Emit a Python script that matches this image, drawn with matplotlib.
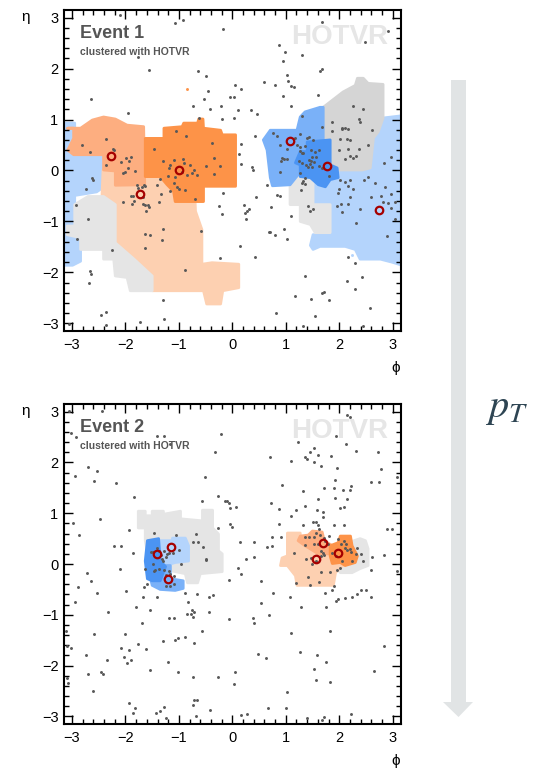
import numpy as np
import matplotlib
matplotlib.use('Agg')
import matplotlib.pyplot as plt
from matplotlib.ticker import MultipleLocator
from matplotlib.patches import Polygon

plt.rcParams['font.family'] = ['Liberation Sans', 'DejaVu Sans']
plt.rcParams['mathtext.fontset'] = 'stix'

# colours of the jet areas
c_ltorange = '#fdd0b1'
c_mdorange = '#fdae80'
c_orange = '#fd9348'
c_ltgray = '#e5e5e5'
c_gray = '#d5d5d5'
c_ltblue = '#b4d4fc'
c_mdblue = '#7ab1f8'
c_blue = '#4b94f3'

####################################################################
## Event 1 : jet areas (phi, eta polygons)
####################################################################
ev1_ltblue_left = [(-3.3, 0.93), (-2.95, 0.93), (-2.95, 0.35), (-2.43, 0.35), (-2.43, -0.34),
                   (-2.54, -0.42), (-2.95, -0.49), (-2.95, -1.35), (-2.84, -1.35), (-2.84, -1.78),
                   (-2.99, -1.86), (-3.3, -1.86)]
ev1_ltorange = [(-2.42, 0.01), (-0.72, 0.01), (-0.69, -0.80), (-0.57, -1.16), (-0.57, -1.84),
                (-0.38, -1.81), (0.12, -1.84), (0.12, -2.30), (-0.18, -2.36), (-0.22, -2.62),
                (-0.48, -2.62), (-0.54, -2.36), (-1.50, -2.36), (-1.50, -2.07), (-1.84, -1.74),
                (-2.19, -1.42), (-2.19, -0.67), (-2.44, -0.51)]
ev1_ltgray = [(-2.95, -0.67), (-2.70, -0.51), (-2.41, -0.51), (-2.19, -0.67), (-2.19, -1.42),
              (-1.84, -1.74), (-1.50, -2.07), (-1.50, -2.36), (-1.91, -2.36), (-1.97, -2.10),
              (-2.19, -2.07), (-2.22, -1.74), (-2.41, -1.74), (-2.41, -1.55), (-2.84, -1.55),
              (-2.84, -1.32), (-3.09, -1.26), (-3.09, -1.09), (-2.95, -1.09)]
ev1_mdorange = [(-3.08, 0.83), (-2.84, 0.83), (-2.62, 0.99), (-2.41, 1.05), (-2.19, 1.01),
                (-1.97, 0.89), (-1.66, 0.86), (-1.64, -0.28), (-2.19, -0.29), (-2.19, -0.01),
                (-2.41, 0.01), (-2.41, 0.31), (-2.97, 0.31), (-3.08, 0.40), (-2.97, 0.63),
                (-2.97, 0.83)]
ev1_orange = [(-1.63, 0.63), (-1.28, 0.63), (-1.28, 0.83), (-0.94, 0.86), (-0.91, 0.93),
              (-0.65, 0.93), (-0.63, 1.01), (-0.55, 1.01), (-0.54, 0.83), (-0.22, 0.79),
              (-0.19, 0.70), (0.06, 0.70), (0.06, -0.31), (-0.54, -0.31), (-0.54, -0.61),
              (-1.07, -0.61), (-1.10, -0.41), (-1.22, -0.28), (-1.35, -0.12), (-1.63, -0.12)]
ev1_ltblue_right = [(1.51, 0.05), (2.58, 0.05), (2.64, 0.70), (2.82, 1.03), (3.3, 1.09),
                    (3.3, -1.90), (2.99, -1.80), (2.77, -1.74), (2.39, -1.74), (2.30, -1.55),
                    (2.11, -1.49), (1.64, -1.49), (1.51, -1.55), (1.46, -1.47), (1.51, -1.26),
                    (1.83, -1.26), (1.83, -0.67), (1.51, -0.67)]
ev1_gray = [(1.70, 1.24), (2.07, 1.54), (2.30, 1.67), (2.34, 1.81), (2.45, 1.81), (2.54, 1.71),
            (2.82, 1.69), (2.82, 1.03), (2.73, 0.76), (2.64, 0.64), (2.58, 0.05), (2.43, 0.01),
            (1.93, 0.01), (1.83, 0.21), (1.83, 0.60), (1.70, 0.60)]
ev1_ltgray_right = [(1.08, -0.03), (1.51, -0.03), (1.51, -0.67), (1.83, -0.67), (1.83, -1.22),
                    (1.55, -1.22), (1.46, -1.06), (1.27, -1.00), (1.27, -0.67), (1.08, -0.67)]
ev1_mdblue = [(0.58, 0.60), (0.71, 0.79), (1.21, 0.79), (1.27, 1.05), (1.36, 1.15), (1.64, 1.24),
              (1.70, 1.24), (1.70, 0.21), (1.27, -0.03), (1.08, -0.28), (0.75, -0.30),
              (0.71, -0.14), (0.65, 0.40)]
ev1_blue = [(1.27, 0.37), (1.40, 0.37), (1.40, 0.56), (1.83, 0.60), (1.83, 0.11), (1.96, 0.05),
            (1.98, -0.14), (1.83, -0.18), (1.74, -0.32), (1.61, -0.28), (1.46, -0.14),
            (1.27, -0.12), (1.27, 0.11), (1.18, 0.15)]

ev1_jets_phi = [-2.28, -1.00, -1.72, 1.08, 1.77, 2.75]
ev1_jets_eta = [0.29, 0.01, -0.47, 0.57, 0.09, -0.77]

ev1_pts = [
    (-1.07, 2.89), (-0.92, 2.96), (-0.18, 2.78), (-2.11, 3.05), (-1.77, 2.23), (-1.56, 1.98),
    (-2.64, 1.40), (-0.64, 1.96), (-0.49, 1.86), (-0.46, 1.56), (0.05, 1.68), (0.16, 1.60),
    (-0.04, 1.45), (0.03, 1.45), (0.59, 1.74), (-0.53, 1.40), (-0.73, 1.26), (-0.21, 1.27),
    (-0.41, 1.21), (0.11, 1.18), (0.34, 1.19), (0.47, 1.10), (-0.62, 1.03), (-0.19, 1.02),
    (0.04, 1.04), (-1.95, 1.12), (-1.05, 0.78), (0.42, 0.67), (-0.87, 0.67), (0.16, 0.52),
    (0.12, 0.33), (0.17, 0.13), (0.37, 0.06), (0.38, 0.01),
    (-2.36, 0.62), (-2.82, 0.50), (-2.67, 0.37), (-2.24, 0.42), (-2.21, 0.40), (-0.38, 0.53),
    (-1.47, 0.42), (-1.30, 0.18), (-1.99, 0.25), (-1.89, 0.27), (-2.08, 0.16), (-1.93, 0.19),
    (-2.37, 0.11), (-1.96, 0.05), (-2.04, -0.04), (-2.01, -0.03), (-1.83, -0.01), (-1.16, 0.10),
    (-1.19, 0.05), (-0.93, 0.22), (-0.91, 0.14), (-1.10, 0.20), (-0.79, 0.11), (-0.66, -0.08),
    (-0.49, 0.08), (-0.35, -0.06), (-0.23, 0.08), (-0.34, 0.25), (-0.72, 0.01), (-0.75, -0.05),
    (-1.08, -0.12), (-1.21, -0.10), (-0.95, -0.02), (-0.84, -0.09), (-1.03, -0.32), (-0.99, -0.36),
    (-0.89, -0.38), (-0.69, -0.56), (-1.10, -0.25), (-1.35, -0.16), (-1.41, -0.29), (-1.17, -0.41),
    (-1.38, -0.61), (-1.33, -0.47), (-1.79, -0.29), (-1.66, -0.28), (-1.69, -0.33), (-1.63, -0.31),
    (-1.77, -0.35), (-1.90, -0.51), (-1.86, -0.51), (-1.67, -0.52), (-2.04, -0.62), (-1.87, -0.65),
    (-1.84, -0.59), (-1.68, -0.66), (-1.63, -0.68), (-1.58, -0.67), (-1.56, -0.71), (-1.62, -0.79),
    (-0.17, -0.44), (-0.25, -0.70), (-0.19, -0.85), (-2.62, -0.14), (-2.60, -0.19), (-2.73, -0.36),
    (-2.92, -0.67),
    (-2.70, -0.96), (-2.90, -1.35), (-2.26, -1.56), (-2.66, -1.97), (-2.65, -2.04), (-2.69, -2.21),
    (-1.64, -1.24), (-1.55, -1.26), (-1.30, -1.14), (-1.31, -1.37), (-1.64, -1.52), (-0.89, -1.96),
    (-0.59, -1.18), (0.44, -0.53), (0.15, -1.48), (-0.24, -1.71), (0.42, -1.69), (-1.30, -2.54),
    (-1.28, -2.92), (-1.72, -2.98), (-2.45, -2.84), (-2.36, -2.78), (-2.37, -3.03), (-3.06, -3.01),
    (0.21, -0.67), (0.24, -0.83), (0.27, -0.80), (0.31, -0.75), (0.26, -0.95), (0.68, -1.21),
    (0.65, -0.29),
    (1.68, 2.92), (2.92, 2.73), (2.49, 2.53), (0.88, 2.46), (0.98, 2.32), (1.30, 2.27), (0.94, 2.14),
    (1.68, 2.00), (1.64, 1.96), (1.02, 1.88), (1.04, 1.75), (1.09, 1.65), (1.16, 1.63), (0.79, 1.67),
    (1.60, 1.48), (0.95, 1.46), (1.10, 1.26), (1.30, 1.07), (0.84, -0.49), (0.90, -0.51),
    (2.26, 1.26), (2.44, 1.21), (2.37, 1.02), (2.38, 0.96), (1.87, 0.95), (1.67, 0.85), (2.06, 0.83),
    (2.11, 0.83), (2.16, 0.81), (2.05, 0.81), (1.86, 0.77), (2.62, 0.79), (0.76, 0.73), (0.84, 0.68),
    (1.27, 0.72), (1.43, 0.66), (1.40, 0.64), (1.18, 0.63), (0.90, 0.50), (1.21, 0.50), (1.27, 0.47),
    (1.35, 0.48), (1.50, 0.59), (2.01, 0.61), (2.14, 0.61), (2.21, 0.60), (2.37, 0.42), (2.54, 0.50),
    (2.17, 0.42), (1.02, 0.42), (1.26, 0.38), (1.30, 0.35), (1.33, 0.34), (1.48, 0.40), (1.55, 0.37),
    (1.63, 0.40), (1.49, 0.27), (1.57, 0.26), (1.43, 0.21), (1.48, 0.19), (1.53, 0.16), (1.46, 0.13),
    (1.38, 0.11), (1.30, 0.14), (0.92, 0.25), (0.96, 0.22), (1.02, 0.22), (0.91, 0.18), (1.25, 0.18),
    (1.63, 0.08), (1.68, 0.04), (1.81, -0.10), (1.49, 0.07), (1.41, 0.07), (0.90, -0.03), (2.21, 0.29),
    (2.26, 0.25), (2.31, 0.29), (2.11, 0.22), (1.99, 0.40), (1.32, -0.21), (1.36, -0.27), (1.29, -0.38),
    (2.01, -0.18), (2.11, -0.23), (2.21, -0.18), (2.16, -0.31), (2.25, -0.36), (2.54, -0.12),
    (2.67, -0.25), (2.86, -0.32), (2.21, -0.53), (2.59, -0.53), (2.79, -0.50), (2.97, -0.47),
    (1.26, -0.05), (1.35, -0.15), (1.30, -0.25), (0.72, -0.72), (1.10, -0.90), (1.41, -0.69),
    (1.46, -0.80), (1.51, -0.75), (0.71, -1.20), (0.79, -1.26), (0.97, -1.14), (1.02, -1.34),
    (1.35, -2.08), (1.18, -2.47), (1.48, -2.53), (1.68, -2.41), (1.71, -2.39), (1.81, -2.54),
    (0.82, -2.80), (1.55, -2.86), (1.32, -3.05), (2.14, -2.17), (2.30, -2.33), (2.42, -2.09),
    (2.17, -1.69), (2.29, -1.81), (2.57, -2.69), (2.44, -3.06), (1.97, -0.44), (1.99, -0.36),
    (2.03, -0.66), (1.96, -0.70), (2.06, -0.81), (2.39, -0.75), (2.31, -1.03), (2.16, -0.65),
    (2.47, -0.19), (2.82, -0.61), (2.91, -0.64), (2.97, -0.73), (3.05, -0.62), (3.05, -0.95),
    (2.83, 0.14), (2.97, 0.27), (2.89, -1.29)]
ev1_ghosts = [(-0.85, 1.59, c_orange), (2.24, -1.66, c_ltblue)]

####################################################################
## Event 2 : jet areas
####################################################################
ev2_ltgray_left = [(-1.76, 1.04), (-1.63, 1.04), (-1.63, 0.95), (-1.50, 0.95), (-1.50, 1.04),
                   (-1.29, 1.04), (-1.29, 0.98), (-0.97, 1.04), (-0.97, 0.89), (-0.56, 0.85),
                   (-0.56, 1.06), (-0.37, 1.06), (-0.37, 0.71), (-0.26, 0.59), (-0.26, 0.26),
                   (-0.19, 0.20), (-0.19, -0.15), (-0.60, -0.19), (-0.65, -0.37), (-0.84, -0.37),
                   (-0.88, -0.19), (-1.16, -0.13), (-1.53, -0.13), (-1.63, 0.46), (-1.63, 0.71),
                   (-1.76, 0.71)]
ev2_ltblue = [(-1.38, 0.46), (-1.12, 0.46), (-1.12, 0.51), (-0.88, 0.51), (-0.82, 0.36),
              (-0.82, 0.06), (-1.07, 0.03), (-1.25, -0.03), (-1.38, -0.03)]
ev2_mdblue = [(-1.53, -0.03), (-1.16, -0.03), (-1.16, -0.29), (-0.92, -0.33), (-0.92, -0.48),
              (-1.07, -0.52), (-1.35, -0.50), (-1.50, -0.42), (-1.53, -0.29)]
ev2_blue = [(-1.59, 0.46), (-1.38, 0.50), (-1.35, 0.06), (-1.25, -0.05), (-1.35, -0.33),
            (-1.50, -0.33), (-1.59, -0.29), (-1.63, 0.06)]
ev2_ltgray_right = [(2.11, 0.40), (2.39, 0.50), (2.49, 0.46), (2.54, 0.30), (2.54, -0.03),
                    (2.39, -0.09), (2.24, -0.17), (2.02, -0.17), (1.93, -0.03)]
ev2_ltorange = [(1.03, 0.61), (1.27, 0.61), (1.27, 0.46), (1.46, 0.36), (1.83, 0.36), (2.02, 0.22),
                (2.07, -0.03), (1.93, -0.17), (1.89, -0.42), (1.21, -0.42), (1.18, -0.23),
                (1.03, -0.03), (0.90, -0.03), (0.93, 0.12), (1.03, 0.16)]
ev2_mdorange = [(1.23, 0.46), (1.27, 0.55), (1.42, 0.57), (1.50, 0.65), (1.68, 0.63), (1.72, 0.46),
                (1.87, 0.36), (1.87, 0.20), (1.61, 0.20), (1.36, 0.36)]
ev2_orange = [(1.83, 0.36), (1.98, 0.42), (2.02, 0.55), (2.21, 0.55), (2.24, 0.36), (2.34, 0.16),
              (2.30, 0.03), (2.11, -0.03), (2.02, 0.03), (1.87, 0.01), (1.83, 0.16)]

ev2_jets_phi = [-1.41, -1.14, -1.20, 1.69, 1.98, 1.56]
ev2_jets_eta = [0.19, 0.33, -0.29, 0.42, 0.22, 0.10]

ev2_pts = [
    (-3.06, 3.02), (-2.44, 3.01), (-3.02, 2.58), (-2.92, 2.51), (-1.41, 2.53), (-1.27, 2.53),
    (-1.16, 2.37), (-0.22, 2.56), (-0.33, 2.21), (-2.70, 1.92), (-2.54, 1.83), (-2.95, 1.73),
    (-2.59, 1.64), (-2.18, 1.59), (-0.52, 1.72), (-1.84, 1.32), (-0.26, 1.34), (-0.56, 1.24),
    (-0.14, 1.25), (-0.10, 1.24), (-0.06, 1.21), (-0.04, 1.10), (0.06, 1.13), (-2.48, 0.89),
    (-2.98, 0.81), (-2.87, 0.58), (-1.93, 0.67), (-1.46, 0.62), (-1.05, 0.57), (-0.68, 0.60),
    (-0.26, 0.70), (-0.04, 0.78), (-0.01, 0.73), (0.14, 0.44), (0.41, 0.43), (0.64, 0.33),
    (0.26, 0.10), (0.41, 0.14), (-0.73, 0.44), (-0.65, 0.44), (-0.50, 0.10), (-0.97, 0.00),
    (-2.21, 0.36), (-2.09, 0.35), (-1.86, 0.22), (-2.11, -0.10), (-2.72, -0.18), (-2.65, -0.33),
    (-2.89, -0.46), (-1.66, -0.46), (-1.59, -0.39),
    (-1.48, 0.24), (-1.41, 0.31), (-1.37, 0.26), (-1.28, 0.26), (-1.22, 0.20), (-1.19, 0.22),
    (-1.11, 0.21), (-1.31, 0.10), (-1.29, 0.06), (-1.48, 0.00), (-1.44, -0.12), (-1.16, -0.20),
    (-1.10, -0.23), (0.10, -0.08), (-0.07, -0.31), (0.16, -0.19), (0.54, -0.34),
    (-0.55, 0.33), (-1.52, 0.23), (-1.00, 0.27), (-0.49, 0.08), (-1.63, -0.10), (-1.47, -0.13),
    (-1.37, -0.10), (-1.27, -0.11), (-1.19, -0.13), (-1.25, -0.21), (-1.25, -0.44), (-1.16, -0.44),
    (-1.10, -0.39), (-1.99, -0.54), (-1.68, -0.65), (-1.41, -0.65), (-0.88, -0.58), (-0.67, -0.59),
    (-0.43, -0.64), (-0.36, -0.61), (-1.25, 0.13), (-1.33, 0.18),
    (2.14, 2.94), (2.21, 2.89), (1.94, 2.52), (1.22, 2.40), (2.12, 2.37), (1.53, 2.28), (1.45, 2.20),
    (1.61, 2.15), (1.36, 2.11), (1.40, 2.07), (1.84, 2.12), (0.70, 2.11), (2.32, 2.22), (2.73, 2.20),
    (1.09, 2.02), (1.53, 2.00), (1.65, 1.93), (1.95, 1.90), (2.79, 1.88), (3.08, 1.71), (1.92, 1.65),
    (2.60, 1.62), (2.74, 1.62), (0.93, 1.55), (1.71, 1.49), (1.91, 1.49), (2.07, 1.45), (2.21, 1.45),
    (2.22, 1.53), (1.33, 1.43), (1.61, 1.29), (1.92, 1.30), (2.15, 1.28), (0.72, 1.20), (0.88, 1.09),
    (1.19, 1.06), (1.59, 1.07), (1.69, 1.03), (2.08, 1.12), (1.10, 0.95), (0.75, 0.35), (1.32, 0.76),
    (0.88, 0.79), (1.91, 0.76), (2.09, 0.77), (2.89, 0.68), (2.99, 0.68), (0.91, 0.53), (2.62, 0.14),
    (2.83, 0.18), (2.59, -0.11), (3.08, -0.13),
    (1.36, 1.15), (1.69, 0.92), (2.01, 1.11), (1.50, 0.83), (1.56, 0.83), (1.61, 0.76), (0.74, 0.54),
    (1.35, 0.53), (1.44, 0.53), (1.52, 0.54), (1.57, 0.62), (1.62, 0.68), (1.64, 0.57), (1.72, 0.52),
    (1.80, 0.56), (1.53, 0.40), (1.61, 0.39), (1.74, 0.46), (1.79, 0.39), (1.97, 0.49), (2.08, 0.46),
    (2.03, 0.39), (2.13, 0.39), (1.35, 0.38), (1.16, 0.22), (1.66, 0.26), (1.69, 0.21), (1.72, 0.18),
    (1.66, 0.15), (1.86, 0.22), (1.93, 0.16), (2.11, 0.32), (2.15, 0.27), (2.21, 0.29), (2.22, 0.23),
    (2.33, 0.31), (2.32, 0.20), (2.41, 0.20), (1.38, 0.09), (1.56, 0.06), (1.49, 0.01), (1.47, 0.11),
    (2.06, 0.05), (2.23, 0.06), (2.44, 0.05), (1.96, -0.12), (2.02, -0.08), (1.83, -0.16),
    (1.66, -0.16), (1.41, -0.25), (1.19, -0.38), (1.46, -0.41), (1.91, -0.44), (1.86, -0.51),
    (1.62, -0.36), (0.76, -0.57), (1.07, -0.64), (1.74, -0.57), (1.97, -0.68), (2.11, -0.67),
    (2.24, -0.65), (2.41, -0.52), (2.50, -0.52), (2.59, -0.64),
    (-2.53, -0.57), (-2.94, -0.74), (-2.33, -0.95), (-1.80, -0.85), (-1.55, -0.91), (-1.70, -1.16),
    (-0.83, -0.75), (-0.76, -0.91), (-0.71, -0.95), (-0.78, -0.98), (-0.84, -0.99), (-0.73, -1.05),
    (-0.44, -0.95), (-1.18, -1.07), (-1.09, -1.06), (-0.07, -1.09), (0.39, -1.06), (0.40, -1.17),
    (0.54, -0.77), (0.69, -1.00), (1.29, -0.85), (1.76, -0.85), (1.94, -0.73), (2.33, -0.60),
    (-3.11, -1.32), (-2.59, -1.37), (-2.01, -1.37), (-0.57, -1.32), (-1.30, -1.51), (-1.07, -1.50),
    (-1.01, -1.46), (-0.89, -1.43), (-0.72, -1.56), (-1.77, -1.57), (1.10, -1.35), (1.83, -1.32),
    (-3.10, -1.61), (-3.02, -1.66), (-2.08, -1.66), (-2.02, -1.84), (-1.94, -1.69), (-1.62, -1.68),
    (-1.97, -1.94), (-1.90, -1.89), (-2.74, -1.79), (-2.35, -1.89), (-1.21, -1.92), (0.48, -1.78),
    (0.63, -1.85), (1.26, -1.73), (1.59, -1.79), (1.76, -1.92), (1.53, -2.06), (1.57, -2.28),
    (1.82, -2.32), (2.84, -1.62), (2.65, -2.10), (-3.10, -2.25), (-3.08, -2.35), (-2.71, -2.16),
    (-2.46, -2.12), (-2.42, -2.17), (-2.60, -2.50), (-1.55, -2.09), (-1.02, -2.12), (-0.73, -2.23),
    (-0.26, -2.23), (0.05, -2.12), (0.03, -2.36), (1.03, -2.51), (-1.94, -2.74), (-1.82, -2.83),
    (-1.86, -2.93), (-1.42, -2.94), (-1.35, -2.90), (-1.28, -2.82), (-1.25, -3.03), (-0.72, -2.67),
    (-0.67, -2.67), (-0.73, -2.77), (-0.68, -3.00), (-0.41, -2.88), (0.17, -2.97), (0.28, -2.95),
    (0.66, -2.83), (1.01, -2.83), (1.39, -3.03), (1.67, -3.07), (1.71, -3.02), (2.22, -2.96)]

ev1_areas = [(ev1_ltblue_left, c_ltblue), (ev1_ltblue_right, c_ltblue), (ev1_ltorange, c_ltorange),
             (ev1_ltgray, c_ltgray), (ev1_mdorange, c_mdorange), (ev1_orange, c_orange),
             (ev1_gray, c_gray), (ev1_ltgray_right, c_ltgray), (ev1_mdblue, c_mdblue),
             (ev1_blue, c_blue)]
ev2_areas = [(ev2_ltgray_left, c_ltgray), (ev2_ltblue, c_ltblue), (ev2_mdblue, c_mdblue),
             (ev2_blue, c_blue), (ev2_ltgray_right, c_ltgray), (ev2_ltorange, c_ltorange),
             (ev2_mdorange, c_mdorange), (ev2_orange, c_orange)]


def draw_event(ax, areas, pts, jphi, jeta, title, ghosts=()):
    for poly, col in areas:
        ax.add_patch(Polygon(poly, closed=True, facecolor=col, edgecolor=col, lw=2.0,
                             joinstyle='round', zorder=1))
    p = np.array(pts)
    ax.scatter(p[:, 0], p[:, 1], s=4.5, color='#585858', lw=0, zorder=3)
    for gx, gy, gc in ghosts:
        ax.scatter([gx], [gy], s=4.5, color=gc, lw=0, zorder=3)
    ax.plot(jphi, jeta, 'o', ms=5.4, mfc='none', mec='#a50000', mew=1.6, zorder=4)

    ax.set_xlim(-3.15, 3.15)
    ax.set_ylim(-3.15, 3.15)
    ax.xaxis.set_major_locator(MultipleLocator(1))
    ax.yaxis.set_major_locator(MultipleLocator(1))
    ax.xaxis.set_minor_locator(MultipleLocator(0.2))
    ax.yaxis.set_minor_locator(MultipleLocator(0.2))
    ax.tick_params(which='both', direction='in', top=True, right=True, width=1.0,
                   labelsize=10.5, colors='black')
    ax.tick_params(which='major', length=6.5)
    ax.tick_params(which='minor', length=3.5)
    ax.tick_params(axis='x', pad=5)
    ax.tick_params(axis='y', pad=4)
    for s in ax.spines.values():
        s.set_linewidth(1.5)

    ax.text(0.047, 0.928, title, transform=ax.transAxes, fontsize=13, fontweight='bold',
            color='#555555', va='center', ha='left', zorder=5)
    ax.text(0.047, 0.868, 'clustered with HOTVR', transform=ax.transAxes, fontsize=7.5,
            fontweight='bold', color='#555555', va='center', ha='left', zorder=5)
    ax.text(0.962, 0.915, 'HOTVR', transform=ax.transAxes, fontsize=20, fontweight='bold',
            color='#e6e6e6', va='center', ha='right', zorder=0.5)
    ax.text(-0.115, 1.0, '\u03b7', transform=ax.transAxes, fontsize=11, va='top', ha='center')
    ax.text(0.985, -0.095, '\u03d5', transform=ax.transAxes, fontsize=11, va='top', ha='center')


fig = plt.figure(figsize=(5.33, 7.69), dpi=100)
ax1 = fig.add_axes([0.1201, 0.5696, 0.6317, 0.4174])
ax2 = fig.add_axes([0.1201, 0.0585, 0.6317, 0.4161])
draw_event(ax1, ev1_areas, ev1_pts, ev1_jets_phi, ev1_jets_eta, 'Event 1', ev1_ghosts)
draw_event(ax2, ev2_areas, ev2_pts, ev2_jets_phi, ev2_jets_eta, 'Event 2')

# pT arrow on the right (pixel space overlay)
ov = fig.add_axes([0, 0, 1, 1], zorder=-1)
ov.set_xlim(0, 533)
ov.set_ylim(769, 0)
ov.axis('off')
arrow = Polygon([(451, 80), (466, 80), (466, 702), (473, 702), (458.5, 717), (443, 702), (451, 702)],
                closed=True, facecolor='#e1e4e5', edgecolor='none')
ov.add_patch(arrow)
ov.text(507, 408, r'$p_T$', fontsize=29, color='#2e4553', ha='center', va='center')

fig.savefig('out.png', dpi=100)
